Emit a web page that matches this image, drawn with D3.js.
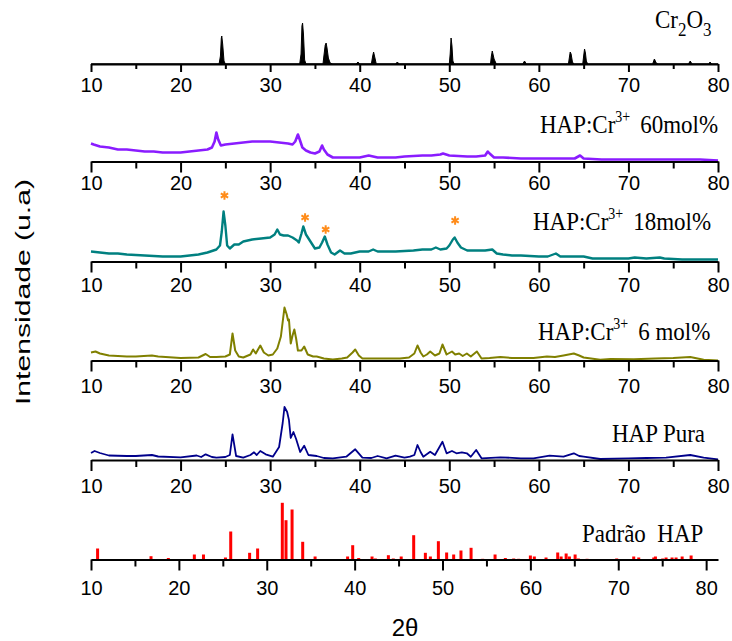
<!DOCTYPE html>
<html>
<head>
<meta charset="utf-8">
<script src="https://cdn.jsdelivr.net/npm/d3@7"></script>
<style>
  body { margin: 0; background: #fff; }
  .tick-label { font-family: "Liberation Sans", Arial, sans-serif; font-size: 20px; fill: #000; }
  .panel-label { font-family: "Liberation Serif", "Times New Roman", serif; font-size: 23px; fill: #000; }
</style>
</head>
<body>
<div id="chart"></div>
<script>
// ---- data (2theta in degrees, intensity in a.u.) ----
let cr2o3 = [[10,0],[24.3,0],[24.45,8],[24.55,26],[24.6,28],[24.7,20],[24.85,3],[25,0],
    [33.3,0],[33.45,10],[33.55,38],[33.62,41],[33.72,30],[33.85,4],[34,0],
    [35.9,0],[36.0,8],[36.15,19],[36.25,21],[36.35,16],[36.5,6],[36.7,1],[37,0],
    [39.6,0],[39.8,2],[40,0],[41.3,0],[41.45,8],[41.55,12],[41.7,6],[41.85,0],
    [44.0,0],[44.2,2],[44.4,0],[50.0,0],[50.1,10],[50.2,26],[50.3,18],[50.4,3],[50.55,0],
    [54.6,0],[54.7,8],[54.8,13],[54.9,9],[55.0,5],[55.1,3],[55.25,0],[58.2,0],[58.4,3],[58.6,0],
    [63.3,0],[63.4,6],[63.5,12],[63.6,10],[63.75,2],[63.9,0],[64.9,0],[65.0,8],[65.1,15],[65.2,11],[65.3,3],[65.45,0],
    [72.7,0],[72.9,5],[73.1,1],[73.3,0],[76.7,0],[76.9,3],[77.1,0],[79.0,0],[79.1,2],[79.3,0],[80,0]];

let cr60 = [[10,18],[10.3,17],[11,15],[12,14],[13,12],[14,12],[15,11],[16,10],[17,10],[18,9],[19,9],[20,9],
    [21,10],[22,11],[23,12],[23.5,14],[23.8,20],[24.0,29],[24.2,22],[24.5,16],[25,17],[26,18],[27,19],[28,20],
    [29,20],[30,20],[31,19],[32,18],[32.5,17],[32.8,20],[33.1,27],[33.3,22],[33.6,14],[34,11],[34.5,9],[35,8],
    [35.5,10],[35.8,16],[36.0,12],[36.4,7],[37,4],[38,4],[39,4],[40,4],[41,6],[41.5,5],[42,4],[44,4],[45,5],
    [47,6],[48,6],[49,7],[49.3,8],[50,6],[52,5],[53,5],[54,6],[54.3,10],[54.5,8],[55,4],[56,4],[58,3],[60,3],
    [62,3],[64,3],[64.6,6],[65,3],[67,2],[70,2],[72,2],[75,2],[78,2],[80,1]];

let cr18 = [[10,10],[11,9],[12,8],[13,8],[14,7],[15,6.5],[16,6],[17,5.5],[18,5],[19,5],[20,5],[21,6],[22,7],
    [23,9],[24,12],[24.4,16],[24.6,30],[24.8,50],[25.0,36],[25.2,16],[25.5,13],[26,17],[26.5,17],[27,20],
    [28,22],[29,23],[30,24],[30.5,27],[30.8,32],[31.1,27],[31.5,26],[32,26],[32.5,24],[33,21],[33.2,19],
    [33.5,28],[33.7,35],[34,27],[34.5,20],[35,13],[35.5,14],[35.8,19],[36.1,25],[36.4,17],[36.8,9],[37.2,7],
    [37.8,11],[38.3,8],[39,8],[40,10],[41,10],[41.5,12],[42,10],[44,10],[46,11],[47,12],[48,12],[48.5,14],
    [49,12],[49.7,13],[50.0,16],[50.4,22],[50.6,24],[50.9,19],[51.3,14],[52,11],[53,11],[54,11],[54.8,12],
    [55.3,8],[56,7],[57,6],[58,6],[60,5],[61,5],[61.9,8],[62.4,5],[64,5],[65,5],[66,3],[68,3],[70,3],
    [70.7,4],[72,3],[73.5,4],[74,3],[76,2],[78,2],[80,2]];

let cr6 = [[10,8],[10.5,9],[11,7],[12,5],[14,4],[15,4],[16.8,5],[17.5,4],[20,2.5],[22,3],[22.8,6.5],[23.3,3.5],
    [24,3.5],[25,4],[25.5,6],[25.8,27],[26.1,10],[26.5,4],[27,3],[27.8,6],[28.1,11],[28.4,7],[28.9,15],
    [29.3,8],[29.8,5],[30.3,6],[30.8,12],[31.2,24],[31.6,53],[31.85,46],[32.0,40],[32.1,41],[32.3,17],
    [32.5,25],[32.7,31],[32.9,22],[33.1,10],[33.5,10],[33.8,14],[34.2,6],[34.8,4],[35.2,4],[36,2],[37,1],
    [38,2],[38.6,3],[39.2,8],[39.5,11],[39.9,5],[40.3,2],[42.3,2],[44.5,2],[45.5,3],[46.1,7],[46.45,15],
    [46.8,8],[47.1,4],[47.5,6],[47.87,9],[48.4,5],[48.9,7],[49.24,16],[49.7,6],[50.3,9],[50.66,6],[51.1,7],
    [51.5,4.5],[51.96,7],[52.4,4],[53.08,9],[53.6,2],[54.5,2.5],[55.7,3.5],[57,2.5],[59.4,2.5],[60.9,4],
    [61.8,3.5],[62.75,5],[63.9,7],[64.5,5],[65,3],[66.85,0.7],[68,1.5],[70.6,1.3],[73,2],[75,2.5],
    [76.9,3.5],[78.4,0.7],[80,0]];

let hapPura = [[10,7],[10.4,9],[11,7],[12,4.5],[14,4],[15,4],[16.8,5],[17.5,3.5],[20,2.7],[21.8,4.5],[22.3,3],
    [22.8,5.7],[23.5,3],[24,2.3],[25,3],[25.5,5],[25.8,25.7],[26.2,4],[27,2.3],[27.8,5],[28.2,7.7],[28.5,5],
    [28.9,9],[29.5,5.7],[30.3,3.3],[31,13],[31.4,37],[31.6,53],[31.9,48],[32.1,40],[32.3,22],[32.6,28],
    [32.9,21],[33.35,8],[33.8,14.3],[34.27,5],[35.2,4],[36,2],[37,1.7],[38.5,3.3],[39.5,10.7],[40.3,2.3],
    [41.3,2],[42,4],[43,1.7],[44,4.3],[45,2.3],[45.6,3.3],[46.1,5],[46.45,15],[46.8,8],[47.1,3.3],
    [47.87,8.3],[48.4,5],[49.24,18.3],[49.7,6.7],[50.3,9],[50.8,6.7],[51.4,7.7],[51.96,6.7],[52.4,3.3],
    [53.0,10],[53.6,1.7],[55.7,2.7],[58,1.7],[59.4,1.7],[61.2,4.3],[62.75,3.3],[63.9,6.7],[64.5,4],[65,3.3],
    [66.85,1],[70,1.7],[72,2],[74.2,2.3],[76.9,5],[78.4,2.3],[80,0.7]];

// standard pattern (stick lines)
let padraoAngles = [10.75,16.83,18.8,21.76,22.8,25.3,25.9,28.05,28.96,31.77,32.19,32.88,34.09,35.5,39.2,39.78,
    40.46,41.98,42.36,43.84,44.4,45.3,46.72,48.05,48.62,49.53,50.47,51.27,52.1,53.25,54.57,55.98,57.15,58.1,
    58.66,60.0,60.45,61.78,63.11,63.5,64.07,64.44,65.09,65.46,66.45,69.82,71.76,72.33,74.04,74.23,75.06,
    75.44,76.12,76.58,77.27,78.29];
let padraoIntensity = [11,3.3,1.5,5,5,2,28,6.7,11,56.7,39.3,50,17.7,3,3,14.3,1.5,3,1,4.3,1,3,24.3,6.7,3,18.3,
    7,5,9,11.7,0.7,5,1.5,1,0.7,4,3,2,7,3,6,3,5,1,0.7,1,3,2,2,3,1,2,2,2,3,4];

// peaks of Cr2O3 marked in the 18 mol% sample
let starAngles = [24.9, 33.9, 36.2, 50.65];
let starLevels = [66, 44, 32, 41];

let majorTicks = [10, 20, 30, 40, 50, 60, 70, 80];
let minorTicks = [15, 25, 35, 45, 55, 65, 75];

// ---- layout ----
let width = 732, height = 641;
let svg = d3.select("#chart").append("svg")
    .attr("width", width)
    .attr("height", height);

let panels = [
    { data: cr2o3, color: "#000", axisY: 64, labelY: 92, tick: 8, minor: 5, area: true, sw: 1 },
    { data: cr60, color: "#8a1cff", axisY: 161.5, labelY: 190, tick: 11, minor: 7, sw: 2.6 },
    { data: cr18, color: "#008080", axisY: 261.5, labelY: 292, tick: 11, minor: 7, sw: 2.4 },
    { data: cr6, color: "#808000", axisY: 360.5, labelY: 393, tick: 11, minor: 7, sw: 2 },
    { data: hapPura, color: "#00008b", axisY: 460, labelY: 493, tick: 11, minor: 7, sw: 1.8 },
    { data: null, color: "#ff0000", axisY: 559.5, labelY: 595, tick: 11, minor: 7, domainMax: 81.35 }
];

panels.forEach((p, i) => {
    let x = d3.scaleLinear()
        .domain([10, p.domainMax || 80])
        .range([91, 718]);
    let y = d3.scaleLinear()
        .domain([0, 60])
        .range([p.axisY, p.axisY - 60]);

    let g = svg.append("g");

    if (p.data) {
        if (p.area) {
            let area = d3.area()
                .x((d) => x(d[0]))
                .y0(y(0))
                .y1((d) => y(d[1]));
            g.append("path")
                .attr("d", area(p.data))
                .attr("fill", p.color)
                .attr("stroke", p.color)
                .attr("stroke-width", p.sw);
        } else {
            let line = d3.line()
                .x((d) => x(d[0]))
                .y((d) => y(d[1]));
            g.append("path")
                .attr("d", line(p.data))
                .attr("fill", "none")
                .attr("stroke", p.color)
                .attr("stroke-width", p.sw)
                .attr("stroke-linejoin", "round");
        }
    } else {
        // stick pattern
        g.selectAll("rect.bar")
            .data(padraoAngles)
            .enter()
            .append("rect")
            .attr("class", "bar")
            .attr("x", (d) => x(d) - 1.5)
            .attr("width", 3)
            .attr("y", (d, j) => y(padraoIntensity[j]))
            .attr("height", (d, j) => y(0) - y(padraoIntensity[j]))
            .attr("fill", p.color);
    }

    // x axis
    let axis = d3.axisBottom(x)
        .tickValues(majorTicks)
        .tickSize(p.tick)
        .tickSizeOuter(0)
        .tickFormat((d) => d);
    let ag = g.append("g")
        .attr("transform", "translate(0," + p.axisY + ")")
        .call(axis);
    ag.select(".domain").attr("stroke-width", 2);
    ag.selectAll(".tick line").attr("stroke-width", 2);
    ag.selectAll(".tick text")
        .attr("class", "tick-label")
        .attr("font-family", null)
        .attr("font-size", null)
        .attr("dy", null)
        .attr("y", p.labelY - p.axisY);

    let minor = d3.axisBottom(x)
        .tickValues(minorTicks)
        .tickSize(p.minor)
        .tickFormat("");
    let mg = g.append("g")
        .attr("transform", "translate(0," + p.axisY + ")")
        .call(minor);
    mg.select(".domain").remove();
    mg.selectAll(".tick line").attr("stroke-width", 2);

    if (i === 2) {
        // asterisks over the Cr2O3 reflections
        g.selectAll("path.star")
            .data(starAngles)
            .enter()
            .append("path")
            .attr("class", "star")
            .attr("d", d3.symbol().type(d3.symbolAsterisk).size(50))
            .attr("transform", (d, j) => "translate(" + x(d) + "," + y(starLevels[j]) + ")")
            .attr("stroke", "#ff8c1a")
            .attr("stroke-width", 2)
            .attr("fill", "none");
    }
});

// ---- sample labels (glyphs a little taller than wide, as in the source) ----
function labelGroup(xPos, yPos) {
    return svg.append("g")
        .attr("transform", "translate(" + xPos + "," + yPos + ") scale(1,1.12)")
        .append("text")
        .attr("class", "panel-label");
}

function crLabel(xPos, yPos, tail) {
    let t = labelGroup(xPos, yPos);
    t.append("tspan").text("HAP:Cr");
    t.append("tspan").attr("dy", -10).attr("font-size", 14).text("3+");
    t.append("tspan").attr("dy", 10).attr("dx", 10).text(tail);
}

let cr = labelGroup(655, 28).attr("font-size", 27);
cr.append("tspan").text("Cr");
cr.append("tspan").attr("dy", 7).attr("font-size", 17).text("2");
cr.append("tspan").attr("dy", -7).text("O");
cr.append("tspan").attr("dy", 7).attr("font-size", 17).text("3");

crLabel(540, 133, "60mol%");
crLabel(533, 230, "18mol%");
crLabel(538, 340, "6 mol%");

labelGroup(612, 442).text("HAP Pura");

labelGroup(582, 542)
    .attr("xml:space", "preserve")
    .style("white-space", "pre")
    .text("Padrão  HAP");

// ---- axis titles ----
svg.append("text")
    .attr("transform", "translate(30, 292) rotate(-90)")
    .attr("text-anchor", "middle")
    .attr("font-family", "Liberation Sans, Arial, sans-serif")
    .attr("font-size", 20)
    .attr("textLength", 226)
    .attr("lengthAdjust", "spacingAndGlyphs")
    .text("Intensidade (u.a)");

svg.append("text")
    .attr("x", 405)
    .attr("y", 636)
    .attr("text-anchor", "middle")
    .attr("font-family", "Liberation Sans, Arial, sans-serif")
    .attr("font-size", 24)
    .text("2θ");
</script>
</body>
</html>
